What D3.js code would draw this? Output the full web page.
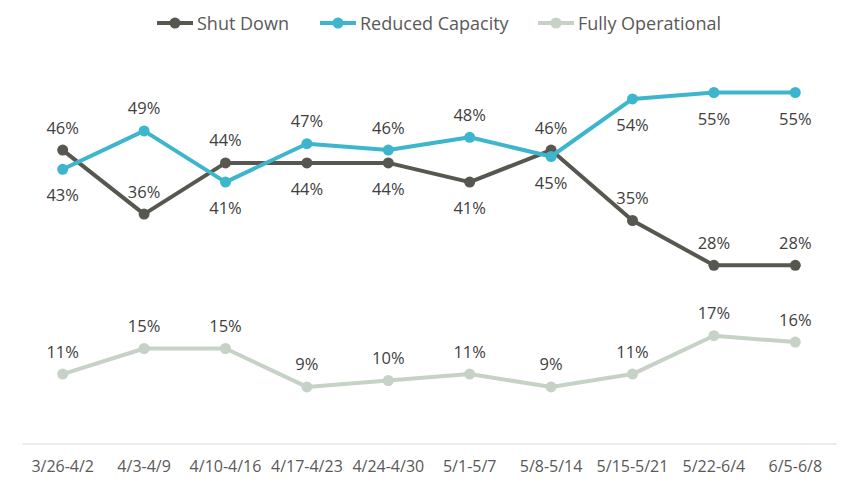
<!DOCTYPE html>
<html>
<head>
<meta charset="utf-8">
<script src="https://cdn.jsdelivr.net/npm/d3@7"></script>
<style>
  body { margin: 0; background: #fff; }
  svg { display: block; font-family: "Open Sans", "Noto Sans", sans-serif; }
</style>
</head>
<body>
<script>
const weeks = ["3/26-4/2", "4/3-4/9", "4/10-4/16", "4/17-4/23", "4/24-4/30",
               "5/1-5/7", "5/8-5/14", "5/15-5/21", "5/22-6/4", "6/5-6/8"]

const shutDown = [46, 36, 44, 44, 44, 41, 46, 35, 28, 28]
const reducedCapacity = [43, 49, 41, 47, 46, 48, 45, 54, 55, 55]
const fullyOperational = [11, 15, 15, 9, 10, 11, 9, 11, 17, 16]

// which side of the point each label sits on
const shutDownLabelPos = ["up", "up", "up", "down", "down", "down", "up", "up", "up", "up"]
const reducedLabelPos = ["down", "up", "down", "up", "up", "up", "down", "down", "down", "down"]
const fullyLabelPos = ["up", "up", "up", "up", "up", "up", "up", "up", "up", "up"]

const series = [
    { name: "Shut Down", values: shutDown, pos: shutDownLabelPos, color: "#57574f" },
    { name: "Reduced Capacity", values: reducedCapacity, pos: reducedLabelPos, color: "#3db6cd" },
    { name: "Fully Operational", values: fullyOperational, pos: fullyLabelPos, color: "#c6d2c6" }
]

const w = 849
const h = 489

const svg = d3.select('body')
    .append('svg')
    .attr('width', w)
    .attr('height', h)

const x = d3.scaleBand()
    .domain(weeks)
    .range([22, 836])

const y = d3.scaleLinear()
    .domain([0, 60])
    .range([444.5, 60.5])

const cx = d => x(d) + x.bandwidth() / 2

// baseline axis
const xAxis = d3.axisBottom(x).tickSize(0).tickPadding(0)
const gx = svg.append('g')
    .attr('transform', `translate(0, 443.5)`)
    .call(xAxis)
gx.select('.domain').attr('stroke', '#d9d9d9').attr('stroke-width', 1)
gx.selectAll('.tick text')
    .attr('fill', '#595959')
    .attr('font-size', 16)
    .attr('dy', 0)
    .attr('y', 28)
    .attr('font-family', '"Open Sans", sans-serif')

const line = d3.line()
    .x((d, i) => cx(weeks[i]))
    .y(d => y(d))

// draw lighter series first so the dark/cyan lines stay on top
const drawOrder = [series[2], series[0], series[1]]

drawOrder.forEach(s => {
    svg.append('path')
        .datum(s.values)
        .attr('d', line)
        .attr('fill', 'none')
        .attr('stroke', s.color)
        .attr('stroke-width', 4)
        .attr('stroke-linejoin', 'round')

    svg.selectAll(null)
        .data(s.values)
        .enter()
        .append('circle')
        .attr('cx', (d, i) => cx(weeks[i]))
        .attr('cy', d => y(d))
        .attr('r', 5.5)
        .attr('fill', s.color)
})

drawOrder.forEach(s => {
    svg.selectAll(null)
        .data(s.values)
        .enter()
        .append('text')
        .attr('x', (d, i) => cx(weeks[i]))
        .attr('y', (d, i) => s.pos[i] === 'up' ? y(d) - 16.5 : y(d) + 32)
        .attr('text-anchor', 'middle')
        .attr('font-size', 16.5)
        .attr('fill', '#404040')
        .text(d => d + '%')
})

// legend
const legendX = [157, 320, 538]
const legend = svg.append('g')
series.forEach((s, i) => {
    const g = legend.append('g').attr('transform', `translate(${legendX[i]}, 23)`)
    g.append('line')
        .attr('x1', 0).attr('x2', 36)
        .attr('stroke', s.color)
        .attr('stroke-width', 4)
    g.append('circle')
        .attr('cx', 18)
        .attr('r', 5.5)
        .attr('fill', s.color)
    g.append('text')
        .attr('x', 40)
        .attr('y', 6.5)
        .attr('font-size', 18)
        .attr('fill', '#595959')
        .text(s.name)
})
</script>
</body>
</html>
